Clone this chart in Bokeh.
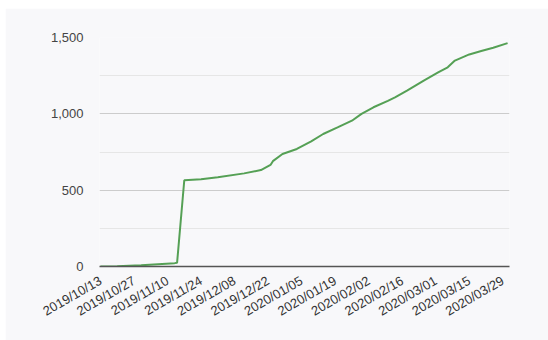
import math
from datetime import datetime
from bokeh.plotting import figure
from bokeh.models import Range1d, FixedTicker, NumeralTickFormatter, DatetimeTickFormatter
from bokeh.embed import file_html
from bokeh.resources import INLINE

dates = ["2019-10-13", "2019-10-20", "2019-10-30", "2019-11-06", "2019-11-13", "2019-11-14",
         "2019-11-17", "2019-11-24", "2019-12-01", "2019-12-12", "2019-12-19", "2019-12-23",
         "2019-12-24", "2019-12-28", "2020-01-03", "2020-01-09", "2020-01-14", "2020-01-20",
         "2020-01-26", "2020-01-30", "2020-02-04", "2020-02-10", "2020-02-13", "2020-02-18",
         "2020-02-25", "2020-03-02", "2020-03-06", "2020-03-09", "2020-03-15", "2020-03-20",
         "2020-03-25", "2020-03-31"]
values = [0, 1, 8, 15, 22, 25,
          565, 572, 585, 610, 632, 665,
          690, 737, 770, 820, 868, 911,
          955, 1000, 1043, 1085, 1108, 1152,
          1218, 1272, 1305, 1349, 1389, 1411,
          1433, 1463]
tick_dates = ["2019-10-13", "2019-10-27", "2019-11-10", "2019-11-24", "2019-12-08", "2019-12-22",
              "2020-01-05", "2020-01-19", "2020-02-02", "2020-02-16", "2020-03-01", "2020-03-15",
              "2020-03-29"]
y_ticks = [0, 500, 1000, 1500]
y_minor = [250, 750, 1250]

def ms(s):
    return datetime.strptime(s, "%Y-%m-%d").timestamp() * 1000.0

xs = [datetime.strptime(d, "%Y-%m-%d") for d in dates]
DAY = 86400000.0

p = figure(width=543, height=332, margin=(8, 0, 0, 5), x_axis_type="datetime",
           output_backend="svg", toolbar_location=None,
           x_range=Range1d(ms(dates[0]) - 0.4 * DAY, ms(dates[-1]) + 0.8 * DAY),
           y_range=Range1d(0, 1500),
           min_border_left=94, min_border_right=39, min_border_top=29, min_border_bottom=74)
p.background_fill_color = "#f8f8fa"
p.border_fill_color = "#f8f8fa"
p.outline_line_color = None

p.line(xs, values, line_color="#55a055", line_width=2)

p.xaxis.ticker = FixedTicker(ticks=[ms(t) for t in tick_dates])
fmt = "%Y/%m/%d"
p.xaxis.formatter = DatetimeTickFormatter(days=fmt, months=fmt, years=fmt, hours=fmt,
                                          minutes=fmt, seconds=fmt, milliseconds=fmt,
                                          minsec=fmt, hourmin=fmt)
p.xaxis.major_label_orientation = math.pi / 6
p.xaxis.axis_line_color = "#555555"
p.xaxis.axis_line_width = 1.5
p.xaxis.major_tick_line_color = None
p.xaxis.minor_tick_line_color = None
p.xaxis.major_label_text_font = "Liberation Sans"
p.xaxis.major_label_text_font_size = "13px"
p.xaxis.major_label_text_color = "#333333"
p.xaxis.major_label_standoff = 7
p.xgrid.grid_line_color = None

p.yaxis.ticker = FixedTicker(ticks=y_ticks, minor_ticks=y_minor)
p.yaxis.formatter = NumeralTickFormatter(format="0,0")
p.yaxis.axis_line_color = None
p.yaxis.major_tick_line_color = None
p.yaxis.minor_tick_line_color = None
p.yaxis.major_label_text_font = "Liberation Sans"
p.yaxis.major_label_text_font_size = "13px"
p.yaxis.major_label_text_color = "#444444"
p.yaxis.major_label_standoff = 10
p.ygrid.grid_line_color = "#cccccc"
p.ygrid.minor_grid_line_color = "#e6e6e6"

open("out.html", "w").write(file_html(p, INLINE))
